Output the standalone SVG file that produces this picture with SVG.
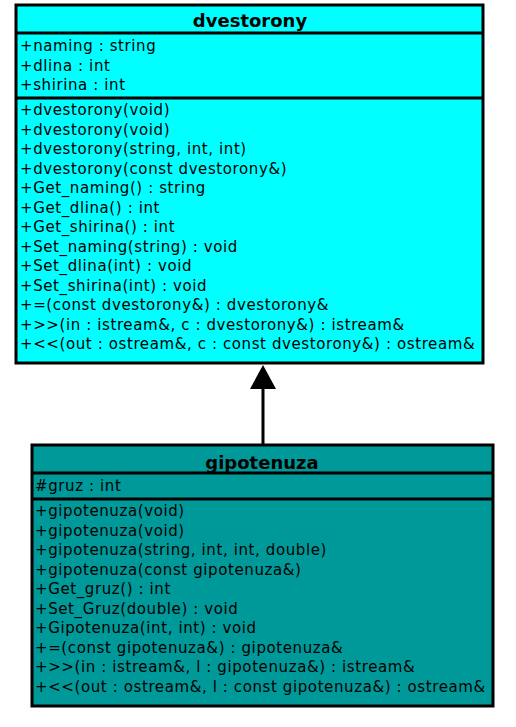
<svg xmlns="http://www.w3.org/2000/svg" width="516" height="727" viewBox="0 0 516 727">
<style>
.box{stroke:#000;stroke-width:3}
.sep{stroke:#000;stroke-width:3}
.t{font-family:"DejaVu Sans",sans-serif;font-size:15px;letter-spacing:0.6px;fill:#000}
.h{font-family:"DejaVu Sans",sans-serif;font-size:18px;font-weight:bold;fill:#000;text-anchor:middle}
</style>
<rect width="516" height="727" fill="#fff"/>
<g id="connectors">
<line x1="263" y1="386" x2="263" y2="444" stroke="#000" stroke-width="3"/>
<polygon points="263,365 276,389 250,389" fill="#000"/>
</g>
<g id="dvestorony">
<rect class="box" x="16" y="5" width="467" height="358" fill="#00ffff"/>
<line class="sep" x1="16" y1="33" x2="483" y2="33"/>
<line class="sep" x1="16" y1="98" x2="483" y2="98"/>
<text class="h" x="250" y="27">dvestorony</text>
<text class="t" x="20" y="51">+naming : string</text>
<text class="t" x="20" y="70.5">+dlina : int</text>
<text class="t" x="20" y="90">+shirina : int</text>
<text class="t" x="20" y="115">+dvestorony(void)</text>
<text class="t" x="20" y="134.5">+dvestorony(void)</text>
<text class="t" x="20" y="154">+dvestorony(string, int, int)</text>
<text class="t" x="20" y="173.5">+dvestorony(const dvestorony&amp;)</text>
<text class="t" x="20" y="193">+Get_naming() : string</text>
<text class="t" x="20" y="212.5">+Get_dlina() : int</text>
<text class="t" x="20" y="232">+Get_shirina() : int</text>
<text class="t" x="20" y="251.5">+Set_naming(string) : void</text>
<text class="t" x="20" y="271">+Set_dlina(int) : void</text>
<text class="t" x="20" y="290.5">+Set_shirina(int) : void</text>
<text class="t" x="20" y="310">+=(const dvestorony&amp;) : dvestorony&amp;</text>
<text class="t" x="20" y="329.5">+&gt;&gt;(in : istream&amp;, c : dvestorony&amp;) : istream&amp;</text>
<text class="t" x="20" y="349">+&lt;&lt;(out : ostream&amp;, c : const dvestorony&amp;) : ostream&amp;</text>
</g>
<g id="gipotenuza">
<rect class="box" x="32" y="445" width="461" height="261" fill="#009999"/>
<line class="sep" x1="32" y1="473" x2="493" y2="473"/>
<line class="sep" x1="32" y1="499" x2="493" y2="499"/>
<text class="h" x="262" y="469">gipotenuza</text>
<text class="t" x="35" y="491">#gruz : int</text>
<text class="t" x="35" y="516">+gipotenuza(void)</text>
<text class="t" x="35" y="535.5">+gipotenuza(void)</text>
<text class="t" x="35" y="555">+gipotenuza(string, int, int, double)</text>
<text class="t" x="35" y="574.5">+gipotenuza(const gipotenuza&amp;)</text>
<text class="t" x="35" y="594">+Get_gruz() : int</text>
<text class="t" x="35" y="613.5">+Set_Gruz(double) : void</text>
<text class="t" x="35" y="633">+Gipotenuza(int, int) : void</text>
<text class="t" x="35" y="652.5">+=(const gipotenuza&amp;) : gipotenuza&amp;</text>
<text class="t" x="35" y="672">+&gt;&gt;(in : istream&amp;, l : gipotenuza&amp;) : istream&amp;</text>
<text class="t" x="35" y="691.5">+&lt;&lt;(out : ostream&amp;, l : const gipotenuza&amp;) : ostream&amp;</text>
</g>
</svg>
